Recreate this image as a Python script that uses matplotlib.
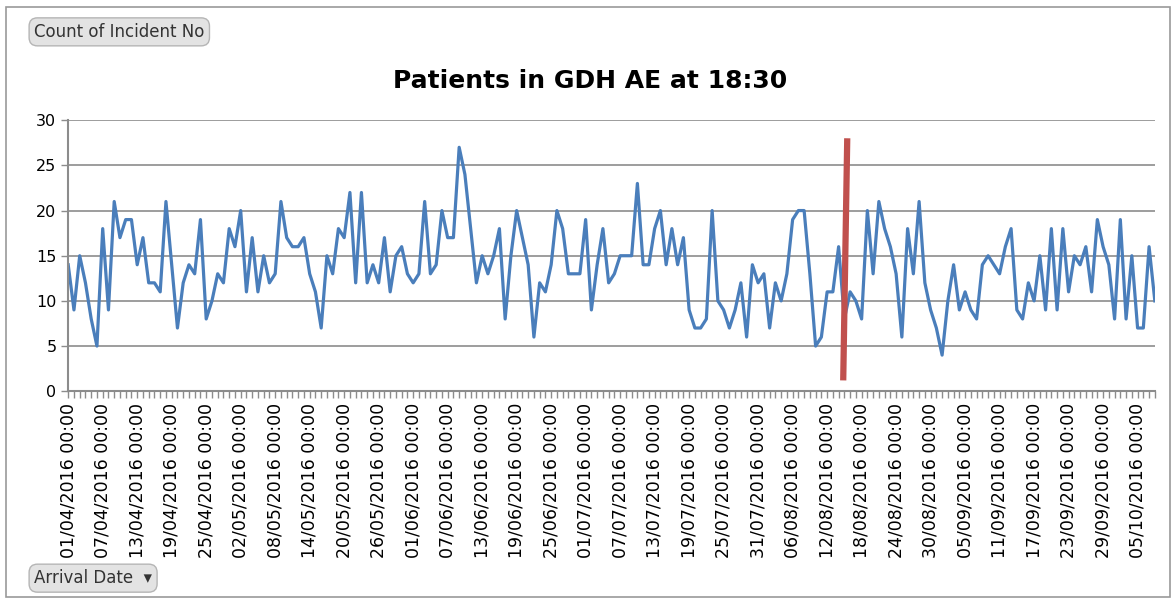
import numpy as np
import pandas as pd
import matplotlib
matplotlib.use('Agg')
import matplotlib.pyplot as plt
from matplotlib.patches import Rectangle

# Arrival dates (one day missing at end of April in the pivot)
dates = pd.date_range('2016-04-01', '2016-10-08')
dates = dates[dates != pd.Timestamp('2016-04-29')]
date_labels = [d.strftime('%d/%m/%Y 00:00') for d in dates]

# Count of Incident No per day
counts = [14, 9, 15, 12, 8, 5, 18, 9, 21, 17,
          19, 19, 14, 17, 12, 12, 11, 21, 14, 7,
          12, 14, 13, 19, 8, 10, 13, 12, 18, 16,
          20, 11, 17, 11, 15, 12, 13, 21, 17, 16,
          16, 17, 13, 11, 7, 15, 13, 18, 17, 22,
          12, 22, 12, 14, 12, 17, 11, 15, 16, 13,
          12, 13, 21, 13, 14, 20, 17, 17, 27, 24,
          18, 12, 15, 13, 15, 18, 8, 15, 20, 17,
          14, 6, 12, 11, 14, 20, 18, 13, 13, 13,
          19, 9, 14, 18, 12, 13, 15, 15, 15, 23,
          14, 14, 18, 20, 14, 18, 14, 17, 9, 7,
          7, 8, 20, 10, 9, 7, 9, 12, 6, 14,
          12, 13, 7, 12, 10, 13, 19, 20, 20, 13,
          5, 6, 11, 11, 16, 8, 11, 10, 8, 20,
          13, 21, 18, 16, 13, 6, 18, 13, 21, 12,
          9, 7, 4, 10, 14, 9, 11, 9, 8, 14,
          15, 14, 13, 16, 18, 9, 8, 12, 10, 15,
          9, 18, 9, 18, 11, 15, 14, 16, 11, 19,
          16, 14, 8, 19, 8, 15, 7, 7, 16, 10]

# hand drawn red marker line (category position, value)
marker_x = [135.5, 134.8]
marker_y = [28.0, 1.2]

blue = '#4a7ebb'
grey = '#8c8c8c'

fig = plt.figure(figsize=(11.76, 6.01), dpi=100)
ax = fig.add_axes([0.058, 0.349, 0.924, 0.451])

x = np.arange(len(counts))
ax.plot(x, counts, color=blue, lw=2.3, solid_joinstyle='round')
ax.plot(marker_x, marker_y, color='#c0504d', lw=4.5, solid_capstyle='butt')

ax.set_xlim(0, len(counts) - 1)
ax.set_ylim(0, 30)
ax.set_yticks(range(0, 31, 5))
ax.yaxis.grid(True, color=grey, lw=1.2)
ax.set_axisbelow(True)

ax.set_xticks(x[::6])
ax.set_xticklabels(date_labels[::6], rotation=90, fontsize=12.5)
ax.set_xticks(x, minor=True)
ax.tick_params(axis='x', which='both', length=5, color=grey, width=1)
ax.tick_params(axis='y', length=5, color=grey, width=1, labelsize=11.5)

for s in ['top', 'right']:
    ax.spines[s].set_visible(False)
for s in ['left', 'bottom']:
    ax.spines[s].set_color(grey)
    ax.spines[s].set_linewidth(1.5)

fig.text(0.502, 0.866, 'Patients in GDH AE at 18:30', ha='center', va='center',
         fontsize=18, fontweight='bold')

# pivot chart field buttons
btn = dict(boxstyle='round,pad=0.3,rounding_size=0.5', fc='#e3e3e3', ec='#b5b5b5', lw=1)
fig.text(0.029, 0.947, 'Count of Incident No', fontsize=12, color='#333333',
         va='center', bbox=btn)
fig.text(0.029, 0.038, 'Arrival Date  \u25be', fontsize=12, color='#333333',
         va='center', bbox=btn)

# chart border
fig.patches.append(Rectangle((0.005, 0.006), 0.99, 0.982, transform=fig.transFigure,
                             fill=False, ec='#9a9a9a', lw=1.2))

fig.savefig('out.png', dpi=100)
